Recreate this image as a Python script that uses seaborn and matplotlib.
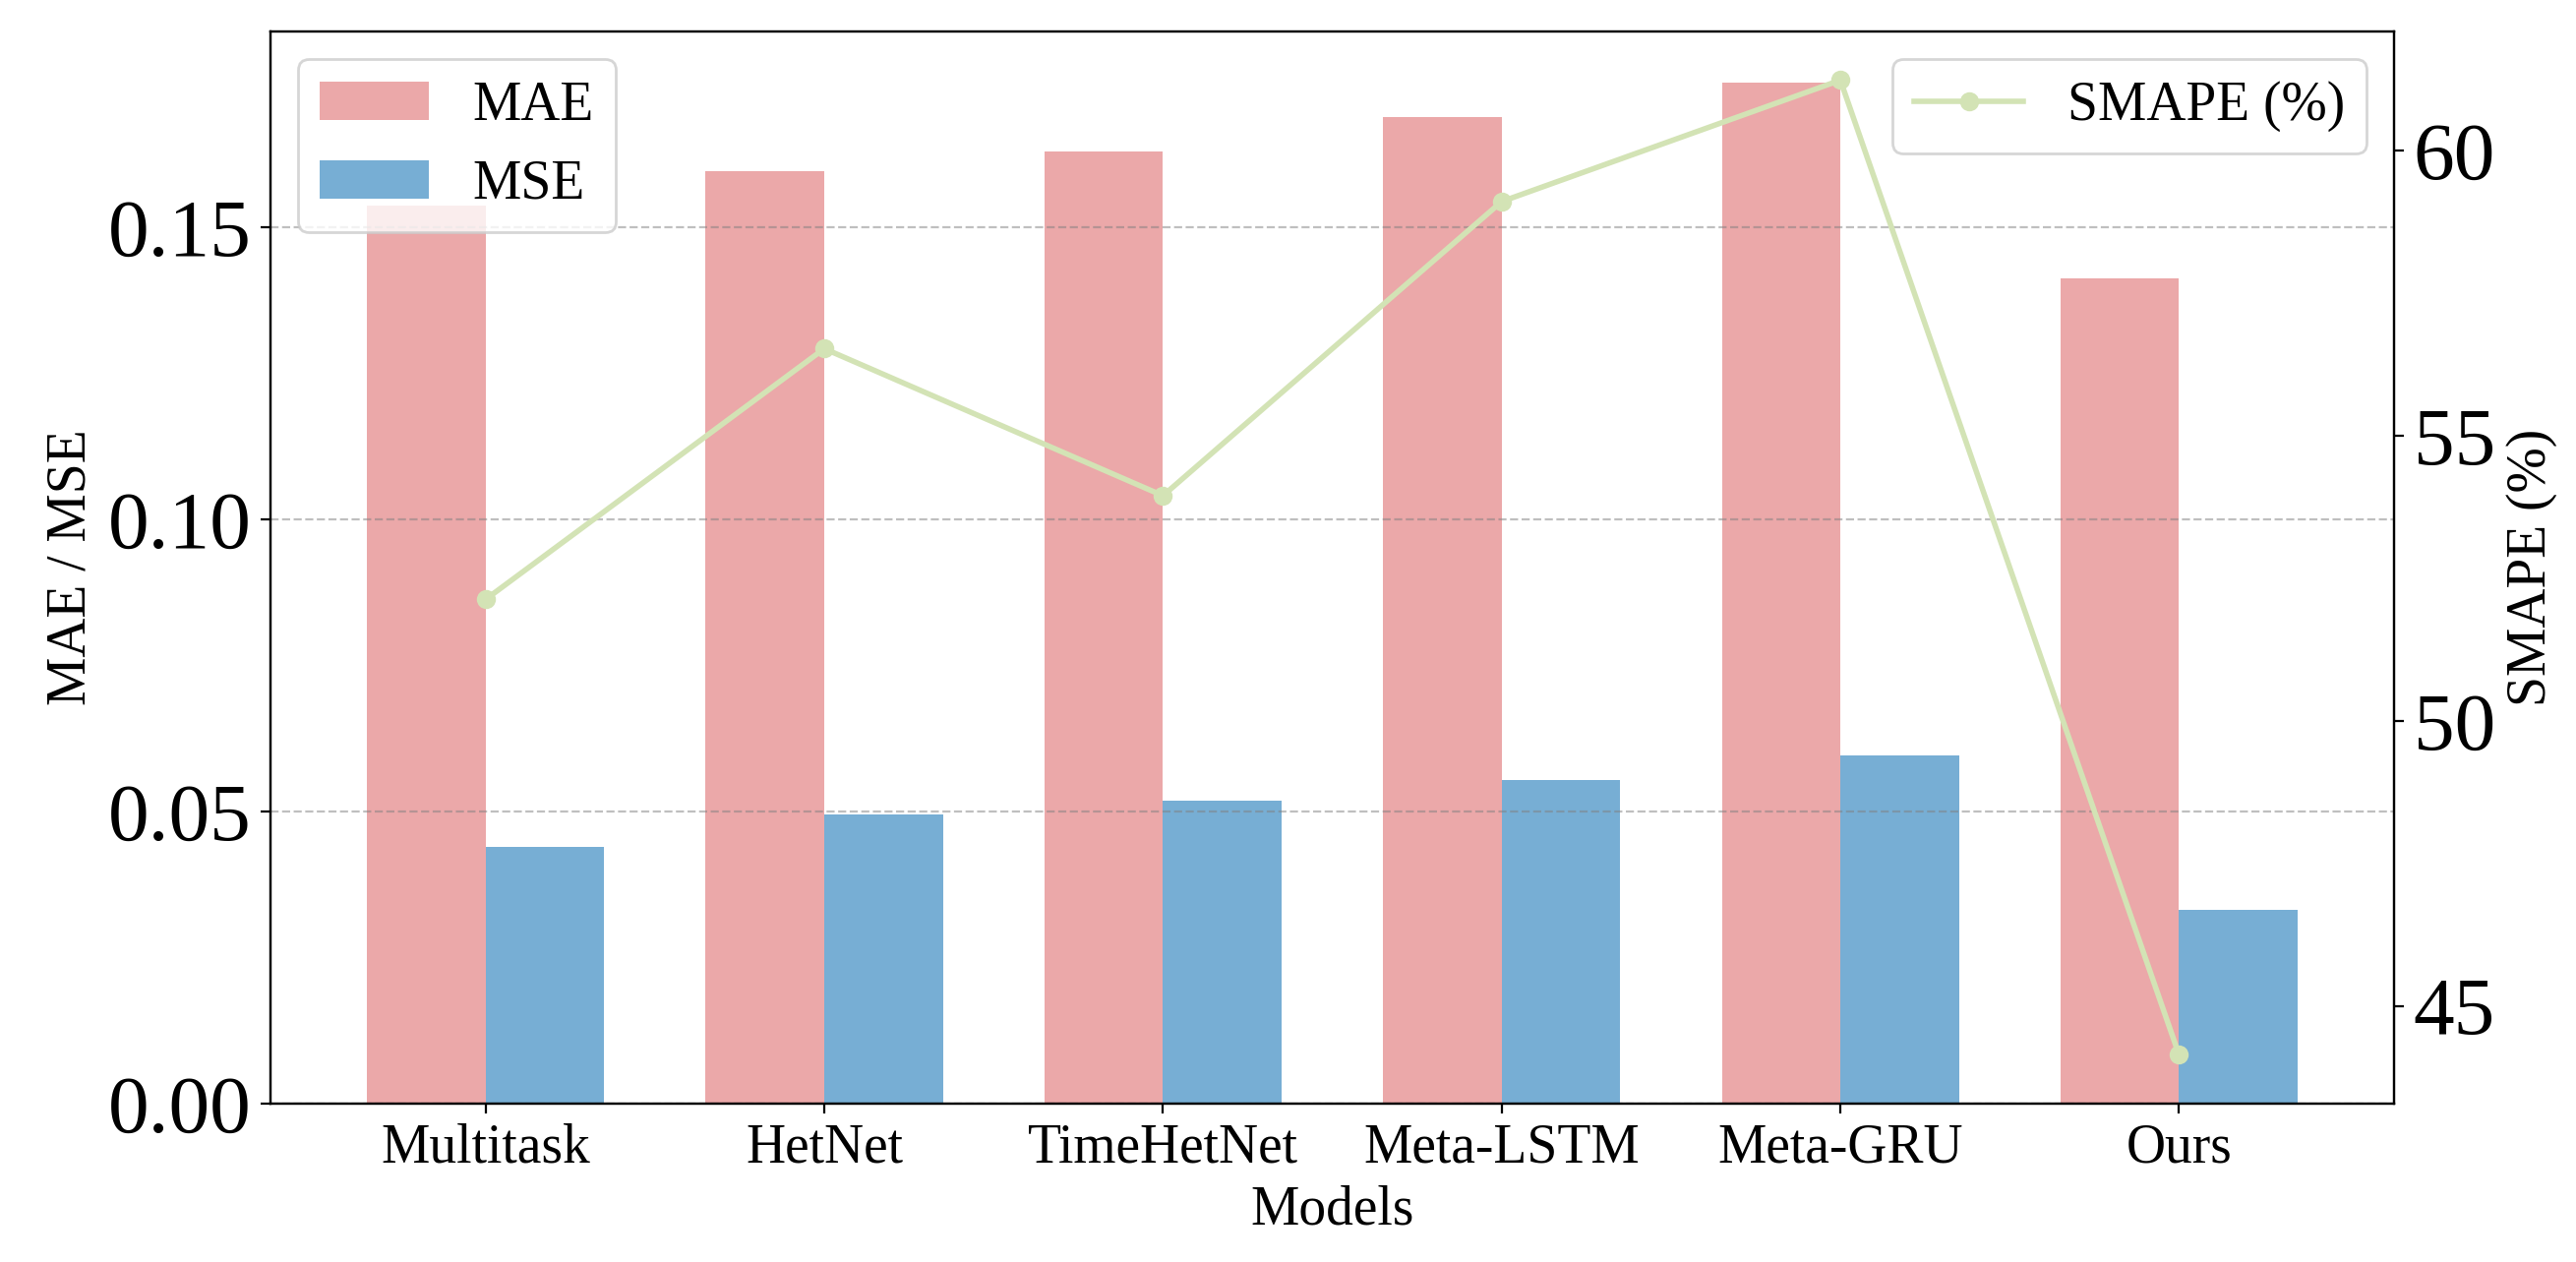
import numpy as np
import pandas as pd
import seaborn as sns
import matplotlib.pyplot as plt

models = ['Multitask', 'HetNet', 'TimeHetNet', 'Meta-LSTM', 'Meta-GRU', 'Ours']
mae = [0.1536, 0.1595, 0.1629, 0.1688, 0.1747, 0.1412]
mse = [0.0440, 0.0494, 0.0519, 0.0554, 0.0595, 0.0331]
smape = [52.13, 56.53, 53.95, 59.11, 61.24, 44.14]

plt.rcParams['font.family'] = ['Liberation Serif', 'DejaVu Serif']

df = pd.DataFrame({'Models': models * 2,
                   'value': mae + mse,
                   'metric': ['MAE'] * len(models) + ['MSE'] * len(models)})

fig = plt.figure(figsize=(13.095, 6.415), dpi=200)
ax = fig.add_axes([0.105, 0.1255, 0.8244, 0.8496])

sns.barplot(data=df, x='Models', y='value', hue='metric', ax=ax,
            palette=['#EBA8A9', '#77AED4'], saturation=1, width=0.7,
            errorbar=None)
ax.set_xlim(-0.635, len(models) - 1 + 0.635)
ax.set_ylim(0, max(mae) * 1.05)
ax.set_yticks([0, 0.05, 0.10, 0.15])
ax.grid(axis='y', linestyle='--', color='gray', alpha=0.5, linewidth=0.8)
ax.set_xlabel('Models', fontsize=20)
ax.set_ylabel('MAE / MSE', fontsize=20)
ax.tick_params(axis='x', labelsize=20)
ax.tick_params(axis='y', labelsize=30)
ax.legend(loc='upper left', fontsize=20)

# SMAPE на второй оси
ax2 = ax.twinx()
sns.lineplot(x=np.arange(len(models)), y=smape, ax=ax2, color='#D3E3B5',
             marker='o', markersize=7, markeredgewidth=0, linewidth=2,
             label='SMAPE (%)')
ax2.set_ylabel('SMAPE (%)', fontsize=20)
ax2.tick_params(axis='y', labelsize=30)
ax2.set_yticks([45, 50, 55, 60])
ax2.legend(loc='upper right', fontsize=20)

plt.savefig('out.png', dpi=200)
